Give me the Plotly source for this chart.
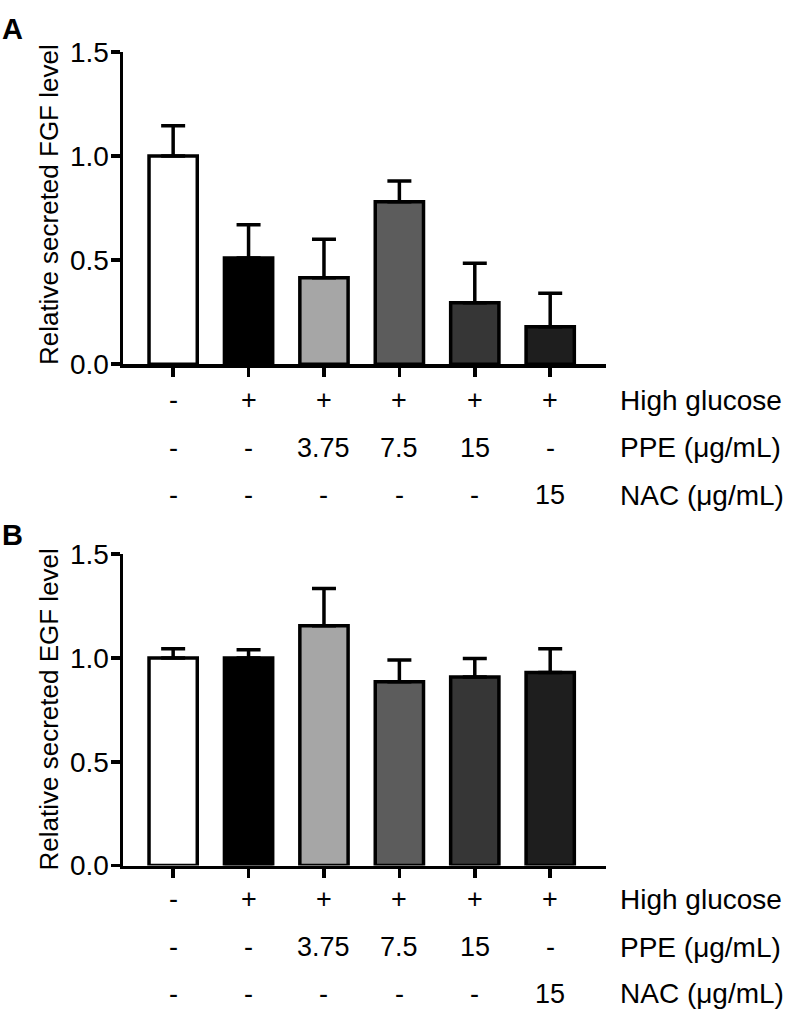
import plotly.graph_objects as go

# ---- data ----
groups = ["G1", "G2", "G3", "G4", "G5", "G6"]
fgf_mean = [1.00, 0.51, 0.415, 0.78, 0.295, 0.18]
fgf_err = [0.145, 0.16, 0.185, 0.10, 0.19, 0.16]
egf_mean = [1.00, 1.00, 1.155, 0.885, 0.908, 0.93]
egf_err = [0.045, 0.04, 0.18, 0.105, 0.09, 0.115]
bar_colors = ["#ffffff", "#000000", "#a6a6a6", "#5c5c5c", "#363636", "#1e1e1e"]
row_high_glucose = ["-", "+", "+", "+", "+", "+"]
row_ppe = ["-", "-", "3.75", "7.5", "15", "-"]
row_nac = ["-", "-", "-", "-", "-", "15"]
row_names = ["High glucose", "PPE (\u03bcg/mL)", "NAC (\u03bcg/mL)"]
yticks = [0.0, 0.5, 1.0, 1.5]
ytick_text = ["0.0", "0.5", "1.0", "1.5"]

W, H = 787, 1028
FONT = "Liberation Sans, Arial, Helvetica, sans-serif"
xpos = list(range(len(groups)))

fig = go.Figure()

def add_panel(means, errs, xa, ya):
    fig.add_trace(go.Bar(
        x=xpos, y=means, width=0.64,
        marker=dict(color=bar_colors, line=dict(color="black", width=3.5)),
        error_y=dict(type="data", array=errs, arrayminus=[0]*len(errs),
                     color="black", thickness=3.5, width=12),
        xaxis=xa, yaxis=ya, showlegend=False, hoverinfo="skip",
    ))

add_panel(fgf_mean, fgf_err, "x", "y")
add_panel(egf_mean, egf_err, "x2", "y2")

x0, x1 = 123 / W, 606 / W
xr = [-0.665, 5.74]
ax_common = dict(showline=True, linecolor="black", linewidth=3.5,
                 ticks="outside", ticklen=9, tickwidth=3.5, tickcolor="black",
                 showgrid=False, zeroline=False, fixedrange=True)

layoutA_y = (1 - 360 / H, 1 - 38 / H)
layoutB_y = (1 - 877 / H, 1 - 556 / H)

fig.update_layout(
    width=W, height=H,
    margin=dict(l=0, r=0, t=0, b=0),
    paper_bgcolor="white", plot_bgcolor="white",
    font=dict(family=FONT, color="black", size=27),
    xaxis=dict(domain=[x0, x1], range=xr, tickvals=xpos, ticktext=[""] * 6,
               anchor="y", **ax_common),
    yaxis=dict(domain=list(layoutA_y), range=[0, 1.5], tickvals=yticks,
               ticktext=ytick_text, anchor="x", tickfont=dict(size=28),
               ticklabelstandoff=-4, **ax_common),
    xaxis2=dict(domain=[x0, x1], range=xr, tickvals=xpos, ticktext=[""] * 6,
                anchor="y2", **ax_common),
    yaxis2=dict(domain=list(layoutB_y), range=[0, 1.5], tickvals=yticks,
                ticktext=ytick_text, anchor="x2", tickfont=dict(size=28),
                ticklabelstandoff=-4, **ax_common),
)

ann = []
def add_rows(xref, row_y_px):
    rows = [row_high_glucose, row_ppe, row_nac]
    for r, ypx in zip(rows, row_y_px):
        for i, t in enumerate(r):
            ann.append(dict(x=xpos[i], y=1 - ypx / H, xref=xref, yref="paper",
                            text=t, showarrow=False, xanchor="center",
                            yanchor="middle", font=dict(size=27)))
    for name, ypx in zip(row_names, row_y_px):
        ann.append(dict(x=618 / W, y=1 - ypx / H, xref="paper", yref="paper",
                        text=name, showarrow=False, xanchor="left",
                        yanchor="middle", font=dict(size=28)))

add_rows("x", [397, 446, 495])
add_rows("x2", [912, 961, 1009])

ann.append(dict(x=49 / W, y=1 - 196 / H, xref="paper", yref="paper",
                text="Relative secreted FGF level", textangle=-90,
                showarrow=False, xanchor="center", yanchor="middle",
                font=dict(size=26)))
ann.append(dict(x=49 / W, y=1 - 716 / H, xref="paper", yref="paper",
                text="Relative secreted EGF level", textangle=-90,
                showarrow=False, xanchor="center", yanchor="middle",
                font=dict(size=26)))
ann.append(dict(x=0, y=1 + 4 / H, xref="paper", yref="paper", text="<b>A</b>",
                showarrow=False, xanchor="left", yanchor="top",
                font=dict(size=29)))
ann.append(dict(x=0, y=1 - 518 / H, xref="paper", yref="paper", text="<b>B</b>",
                showarrow=False, xanchor="left", yanchor="top",
                font=dict(size=29)))

fig.update_layout(annotations=ann)
fig.write_html("out.html", config={"displayModeBar": False, "staticPlot": True},
               post_script="document.body.style.margin='0';document.body.style.padding='0';document.documentElement.style.overflow='hidden';")
